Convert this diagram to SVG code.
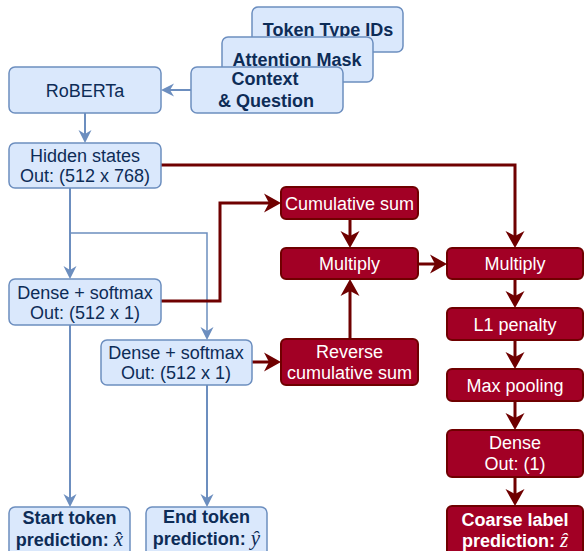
<svg xmlns="http://www.w3.org/2000/svg" width="584" height="551" viewBox="0 0 584 551">
<style>
.b{fill:#dae8fc;stroke:#6c8ebf;stroke-width:1.5}
.r{fill:#a20025;stroke:#6f0000;stroke-width:2}
text{font-family:"Liberation Sans",Arial,Helvetica,sans-serif;font-size:18px;text-anchor:middle}
.bt{fill:#0d2c57}
.rt{fill:#ffffff}
.bold{font-weight:bold}
.m{font-family:"Liberation Serif","Times New Roman",serif;font-style:italic;font-weight:normal;font-size:21px}
.cb{fill:none;stroke:#6c8ebf;stroke-width:2}
.cbt{fill:none;stroke:#6c8ebf;stroke-width:1.5}
.cr{fill:none;stroke:#6f0000;stroke-width:3}
</style>
<defs>
<marker id="ab" markerUnits="userSpaceOnUse" viewBox="-6 -8 18 16" refX="0" refY="0" markerWidth="18" markerHeight="16" orient="auto">
<path d="M-4,-6.5 L9,0 L-4,6.5 L0,0 Z" fill="#6c8ebf"/>
</marker>
<marker id="ar" markerUnits="userSpaceOnUse" viewBox="-7 -11 22 22" refX="0" refY="0" markerWidth="22" markerHeight="22" orient="auto">
<path d="M-5,-9.5 L12,0 L-5,9.5 L0,0 Z" fill="#6f0000"/>
</marker>
</defs>

<g id="node-token-type-ids">
<rect class="b" x="252" y="7" width="151" height="45" rx="6"/>
<text class="bt bold" x="328" y="36">Token Type IDs</text>
</g>
<g id="node-attention-mask">
<rect class="b" x="222" y="37" width="151" height="45" rx="6"/>
<text class="bt bold" x="297" y="66">Attention Mask</text>
</g>
<g id="node-context">
<rect class="b" x="191" y="67" width="152" height="46" rx="6"/>
<text class="bt bold" x="265" y="85">Context</text>
<text class="bt bold" x="266" y="107">&amp; Question</text>
</g>

<g id="connectors">
<path class="cb" d="M191,90 H170" marker-end="url(#ab)"/>
<path class="cb" d="M85,113 V134" marker-end="url(#ab)"/>
<path class="cb" d="M70,188 V270" marker-end="url(#ab)"/>
<path class="cbt" d="M70,233 H207 V331" marker-end="url(#ab)"/>
<path class="cb" d="M70,325 V498" marker-end="url(#ab)"/>
<path class="cb" d="M207,385 V498" marker-end="url(#ab)"/>
<path class="cr" d="M161,165 H515 V236" marker-end="url(#ar)"/>
<path class="cr" d="M161,301 H220 V203 H269" marker-end="url(#ar)"/>
<path class="cr" d="M252,362 H269" marker-end="url(#ar)"/>
<path class="cr" d="M350,219 V236" marker-end="url(#ar)"/>
<path class="cr" d="M350,339 V291" marker-end="url(#ar)"/>
<path class="cr" d="M418,264 H435" marker-end="url(#ar)"/>
<path class="cr" d="M515,279 V296" marker-end="url(#ar)"/>
<path class="cr" d="M515,340 V357" marker-end="url(#ar)"/>
<path class="cr" d="M515,401 V418" marker-end="url(#ar)"/>
<path class="cr" d="M515,477 V494" marker-end="url(#ar)"/>
</g>

<g id="node-roberta">
<rect class="b" x="9" y="67" width="152" height="46" rx="6"/>
<text class="bt" x="85" y="97">RoBERTa</text>
</g>
<g id="node-hidden-states">
<rect class="b" x="9" y="143" width="152" height="45" rx="6"/>
<text class="bt" x="85" y="162">Hidden states</text>
<text class="bt" x="85" y="182">Out: (512 x 768)</text>
</g>
<g id="node-dense1">
<rect class="b" x="9" y="279" width="152" height="46" rx="6"/>
<text class="bt" x="85" y="299">Dense + softmax</text>
<text class="bt" x="85" y="319">Out: (512 x 1)</text>
</g>
<g id="node-dense2">
<rect class="b" x="101" y="340" width="151" height="45" rx="6"/>
<text class="bt" x="176" y="359">Dense + softmax</text>
<text class="bt" x="176" y="379">Out: (512 x 1)</text>
</g>
<g id="node-start-token">
<rect class="b" x="9" y="507" width="121" height="55" rx="6"/>
<text class="bt bold" x="69.5" y="524">Start token</text>
<text class="bt bold" x="69.5" y="546">prediction: <tspan class="m">x̂</tspan></text>
</g>
<g id="node-end-token">
<rect class="b" x="146" y="507" width="121" height="55" rx="6"/>
<text class="bt bold" x="206.5" y="523">End token</text>
<text class="bt bold" x="206.5" y="545">prediction: <tspan class="m">ŷ</tspan></text>
</g>

<g id="node-cumsum">
<rect class="r" x="281" y="187" width="137" height="32" rx="5"/>
<text class="rt" x="349.5" y="210">Cumulative sum</text>
</g>
<g id="node-multiply-left">
<rect class="r" x="281" y="248" width="137" height="31" rx="5"/>
<text class="rt" x="349.5" y="270">Multiply</text>
</g>
<g id="node-reverse-cumsum">
<rect class="r" x="281" y="339" width="137" height="46" rx="5"/>
<text class="rt" x="349.5" y="358">Reverse</text>
<text class="rt" x="349.5" y="379">cumulative sum</text>
</g>
<g id="node-multiply-right">
<rect class="r" x="447" y="248" width="136" height="31" rx="5"/>
<text class="rt" x="515" y="270">Multiply</text>
</g>
<g id="node-l1">
<rect class="r" x="447" y="308" width="136" height="32" rx="5"/>
<text class="rt" x="515" y="331">L1 penalty</text>
</g>
<g id="node-maxpool">
<rect class="r" x="447" y="369" width="136" height="32" rx="5"/>
<text class="rt" x="515" y="392">Max pooling</text>
</g>
<g id="node-dense-out">
<rect class="r" x="447" y="430" width="136" height="47" rx="5"/>
<text class="rt" x="515" y="449">Dense</text>
<text class="rt" x="515" y="470">Out: (1)</text>
</g>
<g id="node-coarse">
<rect class="r" x="447" y="506" width="136" height="56" rx="5"/>
<text class="rt bold" x="515" y="526">Coarse label</text>
<text class="rt bold" x="515" y="547">prediction: <tspan class="m">ẑ</tspan></text>
</g>
</svg>
